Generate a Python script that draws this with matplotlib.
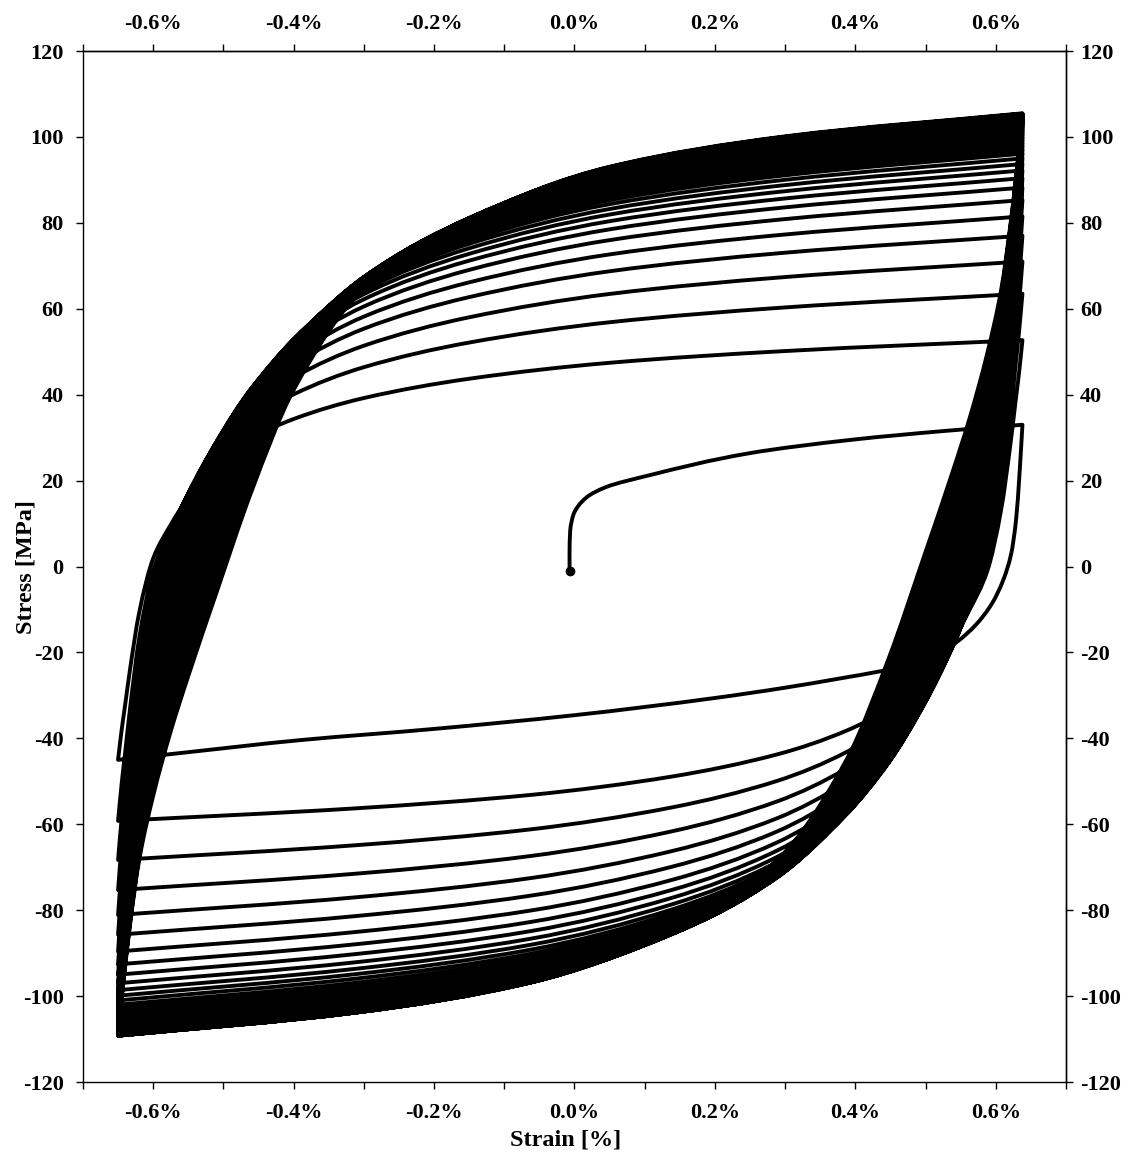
import numpy as np
import matplotlib
matplotlib.use("Agg")
import matplotlib.pyplot as plt
from matplotlib.ticker import MultipleLocator
from matplotlib.path import Path
from matplotlib.patches import PathPatch

plt.rcParams['font.family'] = ['Liberation Serif', 'DejaVu Serif']
plt.rcParams['font.weight'] = 'bold'
plt.rcParams['axes.unicode_minus'] = False

# strain limits of the cycling (%)
eps_min = -0.65
eps_max = 0.638

# peak stress of every half cycle (MPa)
tension_peaks = [33.0, 52.7, 63.5, 71.0, 77.0, 81.5, 85.3, 88.2, 90.4, 92.2,
                 93.7, 95.0, 96.1, 97.0, 97.8, 98.5, 99.2, 99.8, 100.4, 100.9,
                 101.4, 101.8, 102.2, 102.6, 102.9, 103.2, 103.5, 103.8, 104.0, 104.2,
                 104.4, 104.6, 104.8, 104.9, 105.0, 105.1, 105.2, 105.3, 105.4, 105.5]
compression_peaks = [-45.0, -59.2, -68.3, -75.3, -81.1, -85.7, -89.6, -92.6, -95.0, -97.0,
                     -98.6, -99.9, -101.0, -102.0, -102.9, -103.7, -104.4, -105.0, -105.6, -106.1,
                     -106.5, -106.9, -107.3, -107.6, -107.9, -108.1, -108.3, -108.5, -108.6, -108.7,
                     -108.8, -108.9, -109.0, -109.0, -109.1, -109.1, -109.2, -109.2, -109.2, -109.2]

load_stress = [-1.0, 3.0, 8.5, 10.5, 12.3, 14.0, 16.2, 18.5, 21.3, 26.4, 29.6, 31.6, 33.0]
load_strain = [-0.007, -0.007, -0.006, -0.004, -0.001, 0.005, 0.018, 0.045, 0.108, 0.25, 0.4, 0.53, 0.638]
unload_strain = [0.638, 0.634, 0.629, 0.622, 0.611, 0.595, 0.572, 0.545, 0.51, 0.47, 0.435,
                 0.38, 0.3, 0.2, 0.0, -0.2, -0.39, -0.566, -0.65]
unload_stress = [33.0, 22.0, 11.0, 3.0, -3.0, -8.5, -13.5, -17.5, -21.0, -23.2, -24.4,
                 -26.0, -28.2, -30.6, -34.6, -37.8, -40.4, -43.5, -45.0]

# branch shape after a reversal: strain from reversal (%) and fraction of the stress range
branch_de = [0, 0.005, 0.01, 0.017, 0.03, 0.05, 0.075, 0.1, 0.14, 0.19, 0.25, 0.35, 0.5, 0.7, 0.95, 1.288]
branch_early = [0, 0.07, 0.13, 0.215, 0.35, 0.48, 0.56, 0.625, 0.70, 0.765, 0.812, 0.862, 0.908, 0.946, 0.974, 1.0]
branch_sat = [0, 0.04, 0.075, 0.12, 0.19, 0.26, 0.33, 0.39, 0.48, 0.59, 0.70, 0.81, 0.885, 0.942, 0.975, 1.0]

de = np.array(branch_de) * (eps_max - eps_min) / branch_de[-1]
early = np.array(branch_early)
sat = np.array(branch_sat)
n_cycles = len(tension_peaks)


def bezier_through(t, v):
    # smooth monotone curve through (t, v) as cubic bezier vertices (first point left out)
    t = np.asarray(t, float)
    v = np.asarray(v, float)
    h = np.diff(t)
    d = np.diff(v) / h
    m = np.zeros_like(t)
    m[0] = d[0]
    m[-1] = d[-1]
    for i in range(1, len(t) - 1):
        if d[i - 1] * d[i] > 0:
            w1 = 2 * h[i] + h[i - 1]
            w2 = h[i] + 2 * h[i - 1]
            m[i] = (w1 + w2) / (w1 / d[i - 1] + w2 / d[i])
    out = []
    for i in range(len(h)):
        out.append((t[i] + h[i] / 3, v[i] + m[i] * h[i] / 3))
        out.append((t[i + 1] - h[i] / 3, v[i + 1] - m[i + 1] * h[i] / 3))
        out.append((t[i + 1], v[i + 1]))
    return np.array(out)


def branch(k, eps0, sig0, sig1):
    sign = 1 if sig1 > sig0 else -1
    rng = abs(sig1 - sig0)
    w = (k - 1) / (n_cycles - 2)
    frac = (1 - w) * early + w * sat
    c = bezier_through(de, rng * frac)
    return np.column_stack([eps0 + sign * c[:, 0], sig0 + sign * c[:, 1]])


verts = [(load_strain[0], load_stress[0])]
# loading: strain as a function of stress
c = bezier_through(load_stress, load_strain)
verts += [(p[1], p[0]) for p in c]
# first reversal
c = bezier_through(eps_max - np.array(unload_strain), np.array(unload_stress) - unload_stress[0])
verts += [(eps_max - p[0], unload_stress[0] + p[1]) for p in c]
for k in range(1, n_cycles):
    verts += list(map(tuple, branch(k, eps_min, compression_peaks[k - 1], tension_peaks[k])))
    verts += list(map(tuple, branch(k, eps_max, tension_peaks[k], compression_peaks[k])))
codes = [Path.MOVETO] + [Path.CURVE4] * (len(verts) - 1)
loops = Path(verts, codes)

fig = plt.figure(figsize=(11.38, 11.62), dpi=100)
ax = fig.add_axes([0.0729, 0.0688, 0.8638, 0.8873])
ax.add_patch(PathPatch(loops, fill=False, edgecolor='black', lw=2.8,
                       joinstyle='round', capstyle='round'))
ax.plot([load_strain[0]], [load_stress[0]], 'o', color='black', ms=6)

ax.set_xlim(-0.7, 0.7)
ax.set_ylim(-120, 120)

xticks = [-0.6, -0.4, -0.2, 0.0, 0.2, 0.4, 0.6]
xlabels = ['-0.6%', '-0.4%', '-0.2%', '0.0%', '0.2%', '0.4%', '0.6%']
yticks = list(range(-120, 121, 20))

ax.set_xticks(xticks)
ax.set_xticklabels(xlabels)
ax.xaxis.set_minor_locator(MultipleLocator(0.1))
ax.set_yticks(yticks)
ax.tick_params(axis='both', which='both', direction='out', length=5, width=1.0,
               labelsize=16)
ax.tick_params(axis='x', pad=10)
ax.tick_params(axis='y', pad=9)

top = ax.secondary_xaxis('top')
top.set_xticks(xticks)
top.set_xticklabels(xlabels)
top.xaxis.set_minor_locator(MultipleLocator(0.1))
top.tick_params(which='both', direction='out', length=5, width=1.0, labelsize=16, pad=7)

right = ax.secondary_yaxis('right')
right.set_yticks(yticks)
right.tick_params(direction='out', length=5, width=1.0, labelsize=16, pad=5)

for a in (ax, top, right):
    for s in a.spines.values():
        s.set_linewidth(1.0)

fig.text(26 / 1138, 1 - 567 / 1162, 'Stress [MPa]', rotation=90, ha='center', va='center',
         fontsize=17.5, fontweight='bold')
fig.text(566 / 1138, 1 - 1140 / 1162, 'Strain [%]', ha='center', va='center',
         fontsize=17.5, fontweight='bold')

fig.savefig('out.png', dpi=100)
